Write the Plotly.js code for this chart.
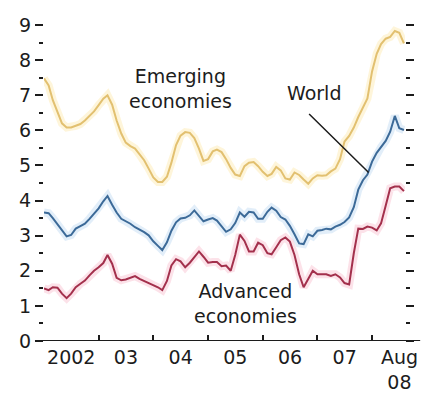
<!DOCTYPE html>
<html><head><meta charset="utf-8">
<script src="https://cdn.plot.ly/plotly-3.0.1.min.js"></script>
<style>html,body{margin:0;padding:0;background:#fff;}#chart{width:421px;height:394px;}</style>
</head><body><div id="chart"></div>
<script>
// Monthly series, Jan 2002 .. Aug 2008 (percent)
const startYear = 2002, startMonth = 1;
const emerging = [7.48,7.28,6.86,6.53,6.2,6.08,6.08,6.13,6.18,6.28, 6.4,6.54,6.72,6.9,7.0,6.73,6.28,5.91,5.65,5.55,
  5.48,5.31,5.15,4.91,4.66,4.53,4.53,4.68,5.08,5.58, 5.85,5.95,5.93,5.78,5.48,5.13,5.18,5.4,5.45,5.38,
  5.18,4.93,4.74,4.7,4.98,5.08,5.1,4.98,4.82,4.7, 4.76,4.96,4.86,4.63,4.6,4.8,4.73,4.6,4.48,4.63,
  4.72,4.71,4.72,4.83,4.91,5.18,5.68,5.84,6.08,6.38, 6.63,6.91,7.68,8.18,8.46,8.61,8.66,8.83,8.78,8.48];
const world = [3.66,3.64,3.5,3.32,3.14,2.98,3.02,3.2,3.27,3.34, 3.48,3.64,3.78,3.98,4.13,3.88,3.66,3.48,3.41,3.34,
  3.24,3.18,3.1,3.01,2.84,2.71,2.59,2.81,3.14,3.38, 3.49,3.51,3.58,3.72,3.56,3.41,3.46,3.5,3.43,3.26,
  3.11,3.18,3.36,3.66,3.54,3.68,3.66,3.48,3.48,3.68, 3.8,3.71,3.53,3.46,3.28,3.04,2.78,2.76,3.04,2.98,
  3.14,3.16,3.2,3.18,3.26,3.31,3.39,3.52,3.81,4.31, 4.58,4.74,5.11,5.36,5.52,5.7,5.96,6.41,6.06,6.01];
const advanced = [1.5,1.45,1.53,1.52,1.35,1.22,1.35,1.53,1.63,1.72, 1.87,2.0,2.1,2.22,2.45,2.2,1.8,1.73,1.75,1.81,
  1.85,1.77,1.71,1.63,1.59,1.53,1.45,1.71,2.15,2.33, 2.27,2.1,2.23,2.4,2.55,2.4,2.23,2.25,2.25,2.13,
  2.15,2.0,2.45,3.03,2.85,2.55,2.55,2.8,2.73,2.5, 2.47,2.67,2.87,2.95,2.83,2.45,1.9,1.53,1.75,2.0,
  1.9,1.9,1.9,1.85,1.9,1.81,1.65,1.61,2.5,3.2, 3.19,3.26,3.23,3.15,3.35,3.85,4.35,4.4,4.4,4.27];

const yearTicks = ['2002-01-01','2003-01-01','2004-01-01','2005-01-01','2006-01-01','2007-01-01','2008-01-01'];
const labelPositions = ['2002-07-02','2003-07-02','2004-07-02','2005-07-02','2006-07-02','2007-07-02','2008-07-02'];
const labelTexts = ['2002','03','04','05','06','07','Aug<br>08'];
const yTicks = [0,1,2,3,4,5,6,7,8,9];
const yTickLabels = ['0','1','2','3','4','5','6','7','8','9'];

const months = emerging.map((_, i) => {
  const d = new Date(Date.UTC(startYear, startMonth - 1 + i, 1));
  return d.toISOString().slice(0, 10);
});

const FONT = 'DejaVu Sans, sans-serif';
const TXT = '#1c1c1c';
const series = [
  {name: 'Emerging economies', y: emerging, color: '#e2c070', glow: 'rgba(252,226,150,0.35)'},
  {name: 'World', y: world, color: '#3c6a98', glow: 'rgba(150,195,235,0.28)'},
  {name: 'Advanced economies', y: advanced, color: '#a3304c', glow: 'rgba(245,150,175,0.28)'}
];
const traces = [];
// soft halo under each line (base subplot)
series.forEach(s => traces.push({x: months, y: s.y, type: 'scatter', mode: 'lines', xaxis: 'x', yaxis: 'y',
  line: {color: s.glow, width: 8}, hoverinfo: 'skip', showlegend: false}));
// the lines themselves (overlay subplot carrying the year labels)
series.forEach(s => traces.push({x: months, y: s.y, type: 'scatter', mode: 'lines', name: s.name,
  xaxis: 'x2', yaxis: 'y', line: {color: s.color, width: 2}, showlegend: false}));

const xRange = ['2002-01-01', '2008-08-08'];
const yRange = [0, 9.2];
const layout = {
  width: 421, height: 394,
  margin: {l: 44, r: 16, t: 18, b: 53},
  paper_bgcolor: '#ffffff', plot_bgcolor: '#ffffff',
  showlegend: false,
  font: {family: FONT, size: 19, color: TXT},
  xaxis: {type: 'date', range: xRange, tickmode: 'array', tickvals: yearTicks, showticklabels: false,
    ticks: 'inside', ticklen: 6, tickwidth: 2, tickcolor: TXT,
    showgrid: false, zeroline: false, showline: false},
  xaxis2: {type: 'date', range: xRange, overlaying: 'x', anchor: 'y', side: 'bottom',
    tickmode: 'array', tickvals: labelPositions, ticktext: labelTexts, ticks: '', ticklabelstandoff: 3,
    showgrid: false, zeroline: false, showline: false,
    tickfont: {family: FONT, size: 19, color: TXT}},
  yaxis: {range: yRange, tickmode: 'array', tickvals: yTicks, ticktext: yTickLabels, ticks: 'outside', ticklen: 8,
    tickwidth: 2, tickcolor: TXT, showgrid: false, zeroline: false, showline: false, mirror: 'ticks',
    ticklabelstandoff: 0, tickfont: {family: FONT, size: 19, color: TXT},
    minor: {dtick: 0.5, ticks: 'outside', ticklen: 4, tickwidth: 2, tickcolor: TXT, showgrid: false}},
  shapes: [{type: 'line', xref: 'paper', yref: 'y', x0: -0.025, x1: 1.042, y0: 0, y1: 0,
    line: {color: TXT, width: 2}}],
  annotations: [
    {text: 'Emerging<br>economies', xref: 'paper', yref: 'paper', x: 0.3795, y: 0.783,
      xanchor: 'center', yanchor: 'middle', showarrow: false, font: {family: FONT, size: 19, color: TXT}},
    {text: 'World', xref: 'paper', yref: 'paper', x: 0.748, y: 0.768,
      xanchor: 'center', yanchor: 'middle', showarrow: false, font: {family: FONT, size: 19, color: TXT}},
    {text: '', x: '2007-12-09', y: 4.8, xref: 'x', yref: 'y', showarrow: true, arrowhead: 0,
      arrowwidth: 1.5, arrowcolor: TXT, ax: -61, ay: -60, standoff: 0},
    {text: 'Advanced<br>economies', xref: 'paper', yref: 'paper', x: 0.557, y: 0.115,
      xanchor: 'center', yanchor: 'middle', showarrow: false, font: {family: FONT, size: 19, color: TXT}}
  ]
};
Plotly.newPlot('chart', traces, layout, {displayModeBar: false, staticPlot: true});
</script>
</body></html>
